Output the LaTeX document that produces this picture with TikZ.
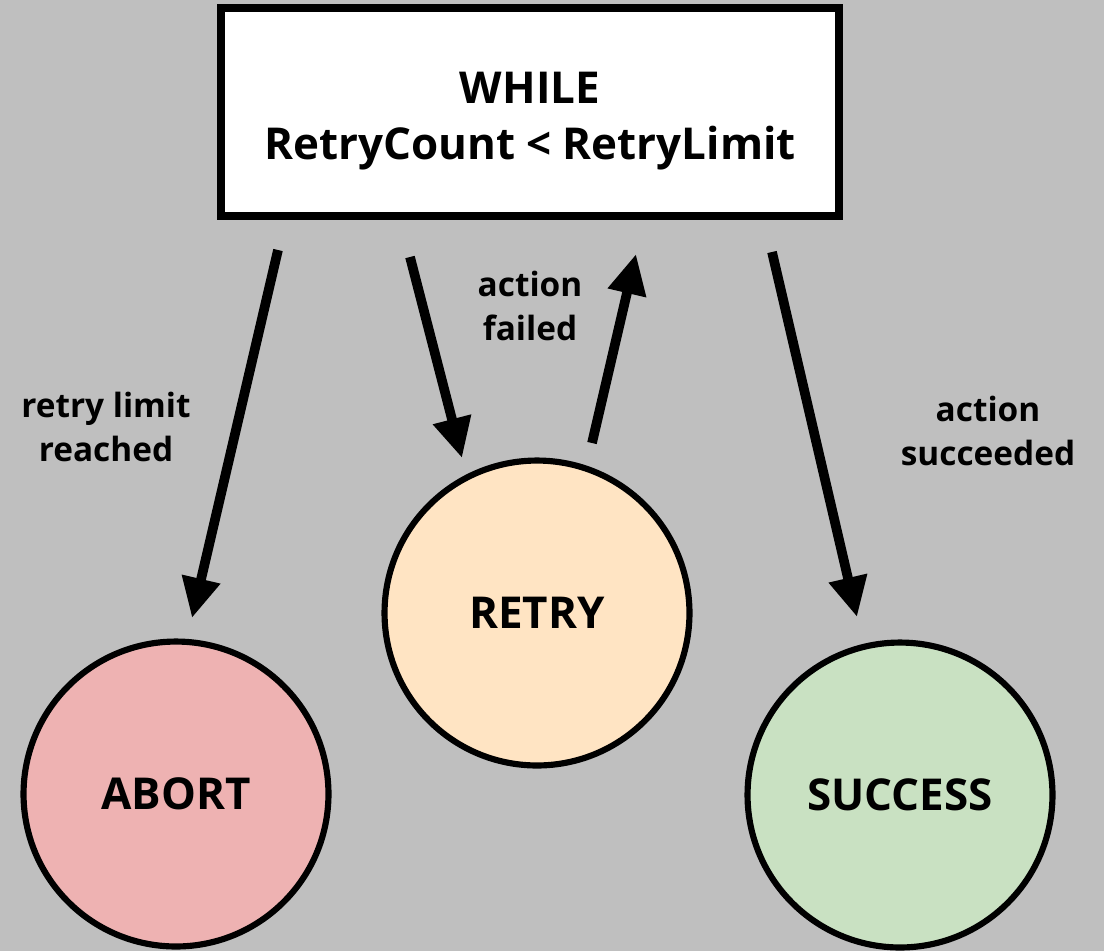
\documentclass[tikz,border=0pt]{standalone}
\usepackage{fontspec}
\setmainfont{Open Sans}
\usetikzlibrary{arrows.meta}
\definecolor{bg}{HTML}{BFBFBF}
\definecolor{abortc}{HTML}{EEB2B2}
\definecolor{retryc}{HTML}{FFE4C3}
\definecolor{succc}{HTML}{C9E1C2}
\begin{document}
\begin{tikzpicture}[x=0.02cm,y=-0.02cm,
  state/.style={circle,draw=black,line width=3.5pt,minimum size=6.1cm,inner sep=0pt,font=\fontsize{25}{30}\selectfont\bfseries},
  loopbox/.style={draw=black,fill=white,line width=4.5pt,minimum width=12.36cm,minimum height=4.16cm},
  looptext/.style={align=center,font=\fontsize{25}{32}\selectfont\bfseries},
  lbl/.style={align=center,font=\fontsize{19}{25}\selectfont\bfseries},
  flow/.style={line width=5.5pt,-{Triangle[length=0.8cm,width=0.74cm]}}]
\fill[bg] (0,0) rectangle (1104,951);
\useasboundingbox (0,0) rectangle (1104,951);
\node[loopbox] (loop) at (530,112) {};
\node[looptext] (looplabel) at (530,121) {WHILE\\RetryCount < RetryLimit};
\node[state,fill=abortc] (abort) at (176,794) {ABORT};
\node[state,fill=retryc] (retry) at (537,613) {RETRY};
\node[state,fill=succc] (success) at (900,795) {SUCCESS};
\coordinate (a1s) at (278,250);
\coordinate (a1e) at (192,618);
\coordinate (a2s) at (410,257);
\coordinate (a2e) at (462,458);
\coordinate (a3s) at (592,443);
\coordinate (a3e) at (636,254);
\coordinate (a4s) at (772,252);
\coordinate (a4e) at (857,617);
\draw[flow] (a1s) -- (a1e);
\draw[flow] (a2s) -- (a2e);
\draw[flow] (a3s) -- (a3e);
\draw[flow] (a4s) -- (a4e);
\node[lbl] (l1) at (106,427) {retry limit\\reached};
\node[lbl] (l2) at (530,306) {action\\failed};
\node[lbl] (l3) at (988,431) {action\\succeeded};
\end{tikzpicture}
\end{document}
